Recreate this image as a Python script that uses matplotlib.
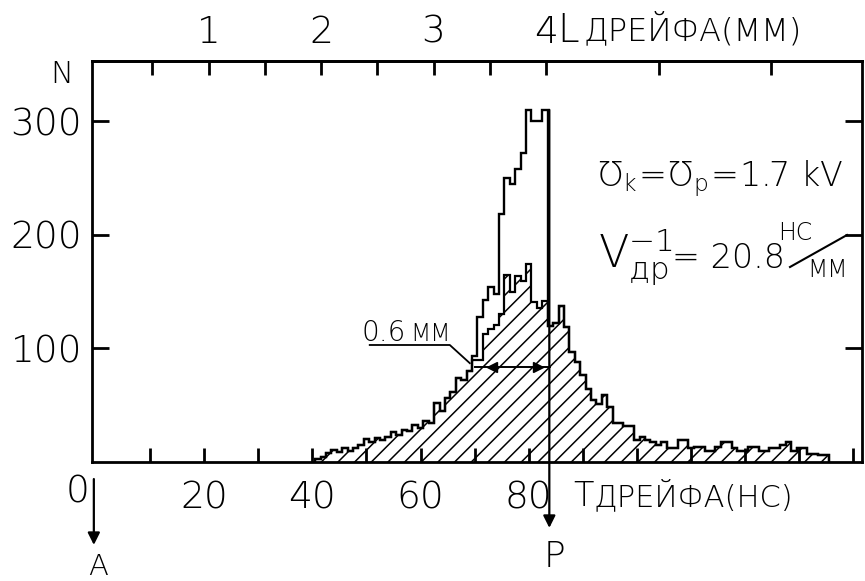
import matplotlib
matplotlib.use('Agg')
import matplotlib.pyplot as plt
import numpy as np

plt.rcParams['font.family'] = ['DejaVu Sans']
plt.rcParams['font.weight'] = 'light'
plt.rcParams['mathtext.fontset'] = 'custom'
plt.rcParams['mathtext.rm'] = 'DejaVu Sans:weight=light'
plt.rcParams['mathtext.it'] = 'DejaVu Sans:weight=light'
plt.rcParams['mathtext.default'] = 'rm'
plt.rcParams['hatch.linewidth'] = 1.1

W, H = 865, 581

# drift time bins (ns, bin centres), 1 ns wide
t_centres = np.arange(41, 136)
# hatched histogram
hatched = [
    3, 4, 8, 11, 9, 12, 10, 12, 15, 20,
    18, 21, 19, 22, 26, 24, 28, 27, 33, 30,
    36, 34, 52, 45, 56, 62, 74, 72, 80, 90,
    90, 113, 117, 121, 130, 165, 150, 164, 159, 174,
    141, 136, 142, 120, 122, 137, 119, 97, 88, 77,
    64, 55, 51, 59, 48, 34, 34, 32, 32, 19,
    22, 19, 18, 15, 18, 12, 12, 19, 19, 12,
    13, 13, 10, 10, 13, 18, 18, 12, 10, 10,
    13, 13, 10, 10, 12, 12, 15, 18, 10, 12,
    12, 7, 7, 6, 6,
]
# open (total) histogram differs from the hatched one only near the peak
peak_t = np.arange(69, 84)
peak_total = [80, 93, 128, 143, 154, 148, 218, 250, 245, 258, 272, 310, 300, 300, 310]

bottom_ticks = np.arange(10, 141, 10)
bottom_labels = {20: '20', 40: '40', 60: '60', 80: '80'}
left_ticks = [100, 200, 300]
top_major = [1, 2, 3, 4, 5, 6]
top_labels = ['1', '2', '3', '4', '', '']
top_minor = [0.5, 1.5, 2.5, 3.5]
ns_per_mm = 20.8

p_time = 83.8
fwhm_left, fwhm_right, fwhm_level = 70.1, 83.9, 84

hatched = np.array(hatched, dtype=float)
total = hatched.copy()
total[peak_t - t_centres[0]] = peak_total
edges = np.append(t_centres - 0.5, t_centres[-1] + 0.5)

fig = plt.figure(figsize=(W / 100, H / 100), dpi=100)
ax = fig.add_axes([92 / W, 1 - 462 / H, 770 / W, 401 / H])


def fig_txt(x, y, s, **kw):
    fig.text(x / W, 1 - y / H, s, **kw)


ax.stairs(hatched, edges, fill=True, facecolor='white', edgecolor='black',
          hatch='//', lw=1.4)
ax.stairs(hatched, edges, color='black', lw=1.6, baseline=0)
ax.stairs(total, edges, color='black', lw=1.7, baseline=0)

ax.set_xlim(-0.74, 141.6)
ax.set_ylim(0, 353)

for sp in ax.spines.values():
    sp.set_linewidth(2)

ax.set_xticks(bottom_ticks)
ax.set_xticklabels([bottom_labels.get(t, '') for t in bottom_ticks])
ax.set_yticks(left_ticks)
ax.tick_params(axis='x', direction='in', length=10, width=2, labelsize=27, pad=13)
ax.tick_params(axis='y', direction='in', length=12, width=2, labelsize=27, pad=7,
               right=True)

top = ax.secondary_xaxis('top', functions=(lambda t: t / ns_per_mm,
                                            lambda l: l * ns_per_mm))
top.set_xticks(top_major)
top.set_xticklabels(top_labels)
top.set_xticks(top_minor, minor=True)
top.tick_params(which='both', direction='in', length=10, width=2, labelsize=27, pad=8)
top.spines['top'].set_linewidth(2)

# P marker and A marker
arrow = dict(arrowstyle='-|>', color='black', lw=1.6, mutation_scale=18,
             shrinkA=0, shrinkB=0)
ax.annotate('', xy=(p_time, -58), xytext=(p_time, 310), arrowprops=arrow,
            annotation_clip=False)
ax.annotate('', xy=(-0.4, -73), xytext=(-0.4, -15), arrowprops=arrow,
            annotation_clip=False)

# width of the peak
ax.plot([fwhm_left, fwhm_right], [fwhm_level, fwhm_level], color='black', lw=1.4)
ax.plot([73.2], [fwhm_level], marker='<', color='black', ms=7)
ax.plot([81.7], [fwhm_level], marker='>', color='black', ms=7)
ax.plot([50.6, 65.4, 69.1], [103, 103, 87], color='black', lw=1.3)

fig_txt(362, 341, '0.6', fontsize=20, va='baseline')
fig_txt(410, 341, 'ММ', fontsize=17, va='baseline')

fig_txt(73, 74, 'N', fontsize=22, ha='right', va='center')
fig_txt(557, 42, 'L', fontsize=28, va='baseline')
fig_txt(584, 40, 'ДРЕЙФА(ММ)', fontsize=23, va='baseline')
fig_txt(78, 492, '0', fontsize=27, ha='center', va='center')
fig_txt(573, 506, 'T', fontsize=24, va='baseline')
fig_txt(594, 506, 'ДРЕЙФА(НС)', fontsize=22, va='baseline')
fig_txt(98, 575, 'A', fontsize=21, ha='center', va='baseline')
fig_txt(555, 567, 'P', fontsize=26, ha='center', va='baseline')

fig_txt(597, 186, r'$\mathrm{Ʊ}_{\mathrm{k}}\!=\!\mathrm{Ʊ}_{\mathrm{p}}\!=\!1.7\ \mathrm{kV}$',
        fontsize=24, va='baseline')
fig_txt(598, 268, r'$\mathrm{V}_{\mathrm{др}}^{-1}$', fontsize=32, va='baseline')
fig_txt(672, 268, '= 20.8', fontsize=24, va='baseline')
fig_txt(778, 240, 'НС', fontsize=17, va='baseline')
fig_txt(807, 277, 'ММ', fontsize=17, va='baseline')
fig.add_artist(plt.Line2D([790 / W, 847 / W], [1 - 267 / H, 1 - 235 / H],
                          color='black', lw=1.5))

fig.savefig('out.png', dpi=100)
